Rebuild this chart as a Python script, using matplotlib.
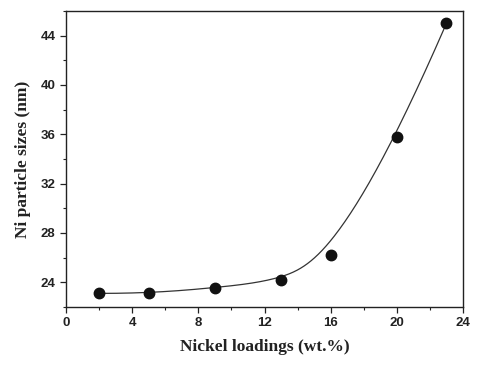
import matplotlib
matplotlib.use("Agg")
import matplotlib.pyplot as plt
import numpy as np
from matplotlib.ticker import MultipleLocator

loading = [2, 5, 9, 13, 16, 20, 23]
size_nm = [23.1, 23.1, 23.55, 24.15, 26.2, 35.75, 45.0]


def bspline(px, py, k=3, num=400):
    # clamped uniform B-spline with the data points as control points
    n = len(px)
    knots = np.concatenate([np.zeros(k), np.arange(n - k + 1), np.full(k, n - k)]).astype(float)
    u = np.linspace(0, n - k, num)
    u[-1] -= 1e-9

    def basis(i, d):
        if d == 0:
            return ((knots[i] <= u) & (u < knots[i + 1])).astype(float)
        a = 0.0
        b = 0.0
        if knots[i + d] != knots[i]:
            a = (u - knots[i]) / (knots[i + d] - knots[i]) * basis(i, d - 1)
        if knots[i + d + 1] != knots[i + 1]:
            b = (knots[i + d + 1] - u) / (knots[i + d + 1] - knots[i + 1]) * basis(i + 1, d - 1)
        return a + b

    B = np.array([basis(i, k) for i in range(n)])
    return B.T @ np.array(px, float), B.T @ np.array(py, float)


xf, yf = bspline(loading, size_nm)

fig = plt.figure(figsize=(5, 3.65), dpi=100)
ax = fig.add_axes([0.132, 0.159, 0.794, 0.811])
ax.plot(xf, yf, color="#333333", lw=0.9)
ax.plot(loading, size_nm, "o", color="#111111", ms=7.5)

ax.set_xlim(0, 24)
ax.set_ylim(22, 46)
ax.xaxis.set_major_locator(MultipleLocator(4))
ax.xaxis.set_minor_locator(MultipleLocator(2))
ax.yaxis.set_minor_locator(MultipleLocator(2))
ax.set_yticks([24, 28, 32, 36, 40, 44])
ax.tick_params(which="both", direction="out", color="#222222")
ax.tick_params(which="major", length=4, width=0.9)
ax.tick_params(which="minor", length=2.5, width=0.8)
for lab in ax.get_xticklabels() + ax.get_yticklabels():
    lab.set_fontfamily("Liberation Sans")
    lab.set_fontweight("bold")
    lab.set_fontsize(9.5)
    lab.set_color("#222222")
for s in ax.spines.values():
    s.set_linewidth(1.0)
    s.set_color("#222222")

ax.set_xlabel("Nickel loadings (wt.%)", fontfamily="Liberation Serif",
              fontweight="bold", fontsize=12.5, color="#222222", labelpad=7)
ax.set_ylabel("Ni particle sizes (nm)", fontfamily="Liberation Serif",
              fontweight="bold", fontsize=12.5, color="#222222", labelpad=7)

plt.savefig("out.png", dpi=100)
